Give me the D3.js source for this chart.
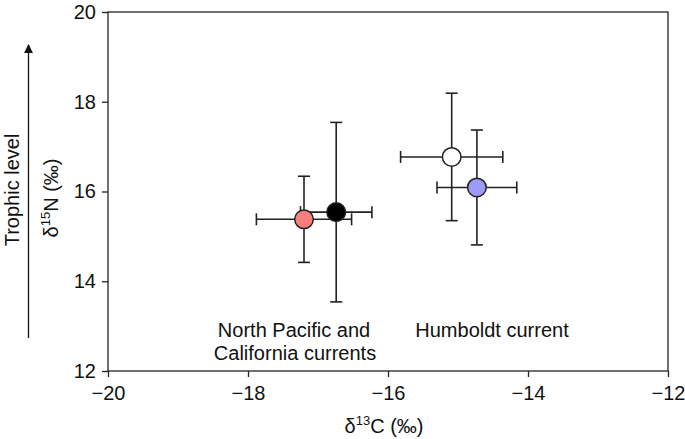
<!DOCTYPE html>
<html><head><meta charset="utf-8">
<script src="https://cdn.jsdelivr.net/npm/d3@7"></script>
<style>body{margin:0;background:#fff}svg{display:block}text{font-family:"Liberation Sans",Arial,sans-serif;fill:#111}</style>
</head><body><svg id="c" width="685" height="439"></svg>
<script>
const groups = ["North Pacific (pink)", "California (black)", "Humboldt A (white)", "Humboldt B (blue)"];
const d13C = [-17.2, -16.74, -15.09, -14.73];
const d13Cerr = [0.68, 0.51, 0.73, 0.57];
const d15N = [15.38, 15.54, 16.77, 16.09];
const d15Nerr = [0.96, 2.0, 1.42, 1.28];
const fills = ["#f77f7f", "#000000", "#ffffff", "#9b9bf5"];
const xTicks = [-20, -18, -16, -14, -12];
const yTicks = [12, 14, 16, 18, 20];

const svg = d3.select("#c");
const m = {l:108, r:668, t:12, b:371};
const x = d3.scaleLinear().domain([-20,-12]).range([m.l, m.r]);
const y = d3.scaleLinear().domain([12,20]).range([m.b, m.t]);

// frame
svg.append("rect").attr("x",m.l).attr("y",m.t).attr("width",m.r-m.l).attr("height",m.b-m.t)
  .attr("fill","none").attr("stroke","#222").attr("stroke-width",1.3);

const xa = svg.append("g").attr("transform",`translate(0,${m.b})`)
  .call(d3.axisBottom(x).tickValues(xTicks).tickSize(6).tickPadding(9).tickFormat(d=>d<0?"\u2212"+Math.abs(d):d));
const ya = svg.append("g").attr("transform",`translate(${m.l},0)`)
  .call(d3.axisLeft(y).tickValues(yTicks).tickSize(6).tickPadding(6));
[xa,ya].forEach(a=>{a.select(".domain").remove();a.selectAll("line").attr("stroke","#222").attr("stroke-width",1.3);
  a.selectAll("text").attr("font-size",20).attr("fill","#111").style("font-family","Liberation Sans, Arial, sans-serif");});

const idx = d3.range(groups.length);
const cap = 6;
const g = svg.append("g").attr("stroke","#222").attr("stroke-width",1.6);
idx.forEach(i=>{
  const cx=x(d13C[i]), cy=y(d15N[i]);
  const x0=x(d13C[i]-d13Cerr[i]), x1=x(d13C[i]+d13Cerr[i]);
  const y0=y(d15N[i]-d15Nerr[i]), y1=y(d15N[i]+d15Nerr[i]);
  g.append("line").attr("x1",x0).attr("x2",x1).attr("y1",cy).attr("y2",cy);
  g.append("line").attr("x1",x0).attr("x2",x0).attr("y1",cy-cap).attr("y2",cy+cap);
  g.append("line").attr("x1",x1).attr("x2",x1).attr("y1",cy-cap).attr("y2",cy+cap);
  g.append("line").attr("x1",cx).attr("x2",cx).attr("y1",y0).attr("y2",y1);
  g.append("line").attr("x1",cx-cap).attr("x2",cx+cap).attr("y1",y0).attr("y2",y0);
  g.append("line").attr("x1",cx-cap).attr("x2",cx+cap).attr("y1",y1).attr("y2",y1);
});
idx.forEach(i=>{
  g.append("circle").attr("cx",x(d13C[i])).attr("cy",y(d15N[i])).attr("r",9.3)
    .attr("fill",fills[i]).attr("stroke","#222").attr("stroke-width",1.5);
});

// region labels
const lab = svg.append("g").attr("font-size",20).attr("text-anchor","middle");
lab.append("text").attr("x",294).attr("y",337).text("North Pacific and");
lab.append("text").attr("x",295).attr("y",360).text("California currents");
lab.append("text").attr("x",492).attr("y",337).text("Humboldt current");

// x title
const xt = svg.append("text").attr("x",384).attr("y",433).attr("text-anchor","middle").attr("font-size",20);
xt.append("tspan").text("\u03b4");
xt.append("tspan").attr("font-size",13).attr("dy",-8).text("13");
xt.append("tspan").attr("dy",8).text("C (\u2030)");

// y title
const yt = svg.append("text").attr("transform","translate(58,198) rotate(-90)").attr("text-anchor","middle").attr("font-size",20);
yt.append("tspan").text("\u03b4");
yt.append("tspan").attr("font-size",13).attr("dy",-8).text("15");
yt.append("tspan").attr("dy",8).text("N (\u2030)");

svg.append("text").attr("transform","translate(19,190) rotate(-90)").attr("text-anchor","middle").attr("font-size",20).text("Trophic level");

// arrow
svg.append("defs").append("marker").attr("id","ah").attr("viewBox","0 0 10 10").attr("refX",9).attr("refY",5)
  .attr("markerWidth",9).attr("markerHeight",10).attr("markerUnits","userSpaceOnUse").attr("orient","auto")
  .append("path").attr("d","M0,0L10,5L0,10Z").attr("fill","#111");
svg.append("line").attr("x1",28.5).attr("x2",28.5).attr("y1",338).attr("y2",45)
  .attr("stroke","#111").attr("stroke-width",1.3).attr("marker-end","url(#ah)");
</script></body></html>
